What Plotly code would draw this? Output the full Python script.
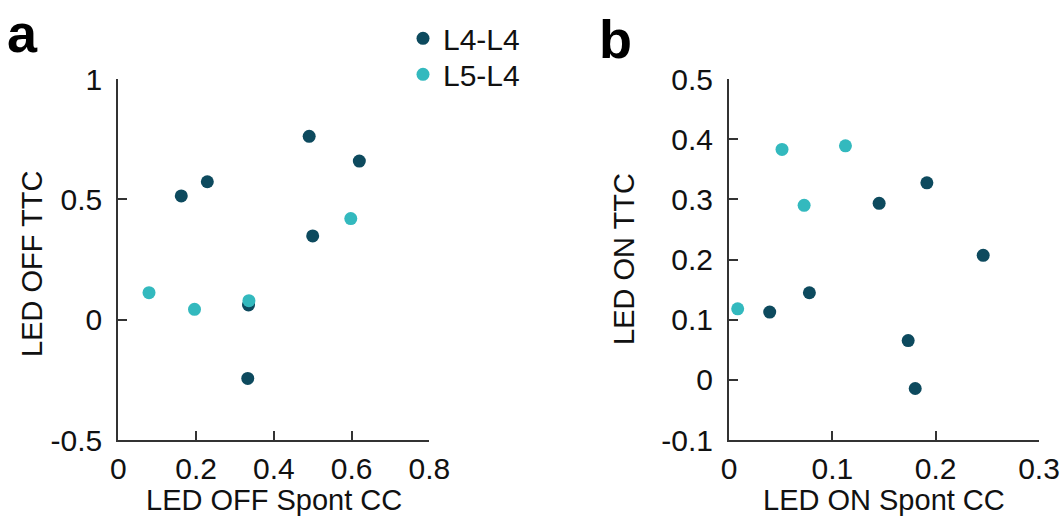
import plotly.graph_objects as go
from plotly.subplots import make_subplots

# Panel a: LED OFF
a_l44_x = [0.162, 0.229, 0.491, 0.620, 0.500, 0.335, 0.333]
a_l44_y = [0.514, 0.573, 0.762, 0.659, 0.348, 0.061, -0.244]
a_l54_x = [0.598, 0.079, 0.196, 0.336]
a_l54_y = [0.420, 0.112, 0.043, 0.079]

# Panel b: LED ON
b_l44_x = [0.1453, 0.1915, 0.246, 0.0394, 0.0778, 0.1734, 0.1802]
b_l44_y = [0.2934, 0.3275, 0.207, 0.1127, 0.1447, 0.0652, -0.0144]
b_l54_x = [0.0513, 0.1127, 0.0727, 0.0084]
b_l54_y = [0.383, 0.389, 0.290, 0.118]

a_xticks = [0, 0.2, 0.4, 0.6, 0.8]
a_xticklabels = ["0", "0.2", "0.4", "0.6", "0.8"]
a_yticks = [-0.5, 0, 0.5, 1]
a_yticklabels = ["-0.5", "0", "0.5", "1"]
b_xticks = [0, 0.1, 0.2, 0.3]
b_xticklabels = ["0", "0.1", "0.2", "0.3"]
b_yticks = [-0.1, 0, 0.1, 0.2, 0.3, 0.4, 0.5]
b_yticklabels = ["-0.1", "0", "0.1", "0.2", "0.3", "0.4", "0.5"]

DARK = "#0d4a5e"
LIGHT = "#33b9be"
AXIS = "#333333"
FONT = "Liberation Sans, Arial, sans-serif"

W, H = 1063, 517

fig = make_subplots(rows=1, cols=2)

fig.add_trace(go.Scatter(x=a_l44_x, y=a_l44_y, mode="markers", name="L4-L4",
                         marker=dict(color=DARK, size=13), cliponaxis=False,
                         legend="legend"), row=1, col=1)
fig.add_trace(go.Scatter(x=a_l54_x, y=a_l54_y, mode="markers", name="L5-L4",
                         marker=dict(color=LIGHT, size=13), cliponaxis=False,
                         legend="legend2"), row=1, col=1)
fig.add_trace(go.Scatter(x=b_l44_x, y=b_l44_y, mode="markers", name="L4-L4",
                         marker=dict(color=DARK, size=13), cliponaxis=False,
                         showlegend=False), row=1, col=2)
fig.add_trace(go.Scatter(x=b_l54_x, y=b_l54_y, mode="markers", name="L5-L4",
                         marker=dict(color=LIGHT, size=13), cliponaxis=False,
                         showlegend=False), row=1, col=2)

axis_style = dict(showline=True, linecolor=AXIS, linewidth=2, ticks="inside",
                  ticklen=9, tickwidth=2, tickcolor=AXIS, showgrid=False,
                  zeroline=False, automargin=False,
                  tickfont=dict(size=30, color="#111111", family=FONT),
                  fixedrange=True)

ydom = [1 - 440 / H, 1 - 79 / H]
fig.update_xaxes(axis_style, range=[0, 0.8], domain=[118.3 / W, 429.3 / W],
                 tickvals=a_xticks, ticktext=a_xticklabels, ticklabelstandoff=1,
                 row=1, col=1)
fig.update_yaxes(axis_style, range=[-0.5, 1], domain=ydom,
                 tickvals=a_yticks, ticktext=a_yticklabels, ticklabelstandoff=8,
                 row=1, col=1)
fig.update_xaxes(axis_style, range=[0, 0.3], domain=[729 / W, 1039 / W],
                 tickvals=b_xticks, ticktext=b_xticklabels, ticklabelstandoff=1,
                 row=1, col=2)
fig.update_yaxes(axis_style, range=[-0.1, 0.5], domain=ydom,
                 tickvals=b_yticks, ticktext=b_yticklabels, ticklabelstandoff=8,
                 row=1, col=2)


def px_x(v):
    return v / W


def px_y(v):
    return 1 - v / H


title_font = dict(size=29, color="#111111", family=FONT)
letter_font = dict(size=54, color="#000000", family=FONT, weight="bold")

annotations = [
    dict(text="LED OFF Spont CC", x=px_x(273.8), y=px_y(500), xanchor="center",
         yanchor="middle", font=title_font),
    dict(text="LED ON Spont CC", x=px_x(884), y=px_y(500), xanchor="center",
         yanchor="middle", font=title_font),
    dict(text="LED OFF TTC", x=px_x(32), y=px_y(264), xanchor="center",
         yanchor="middle", textangle=-90, font=title_font),
    dict(text="LED ON TTC", x=px_x(624), y=px_y(259), xanchor="center",
         yanchor="middle", textangle=-90, font=title_font),
    dict(text="a", x=px_x(6), y=px_y(33), xanchor="left", yanchor="middle",
         font=letter_font, borderpad=0),
    dict(text="b", x=px_x(598), y=px_y(39), xanchor="left", yanchor="middle",
         font=letter_font, borderpad=0),
]
for ann in annotations:
    ann.update(xref="paper", yref="paper", showarrow=False)

legend_style = dict(font=dict(size=30, color="#111111", family=FONT),
                    bgcolor="rgba(0,0,0,0)", borderwidth=0, xanchor="left",
                    yanchor="middle", x=px_x(403), itemclick=False,
                    itemdoubleclick=False)

fig.update_layout(
    template="none",
    width=W, height=H,
    margin=dict(l=0, r=0, t=0, b=0, autoexpand=False),
    paper_bgcolor="white", plot_bgcolor="white",
    font=dict(family=FONT),
    annotations=annotations,
    showlegend=True,
    legend=dict(legend_style, y=px_y(38.3)),
    legend2=dict(legend_style, y=px_y(74.3)),
)

fig.write_html("out.html", config={"displayModeBar": False})
